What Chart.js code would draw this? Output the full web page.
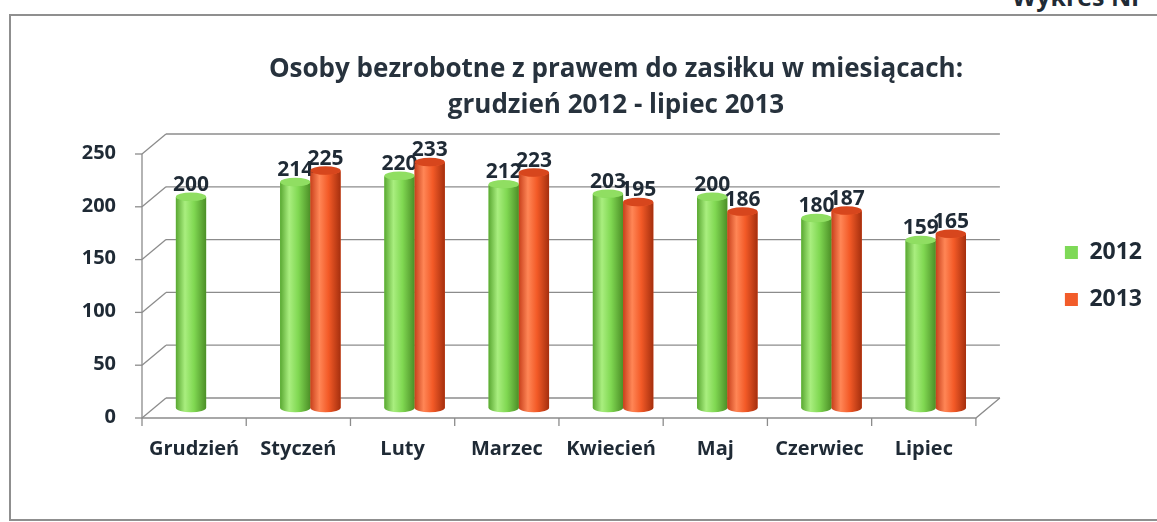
<!DOCTYPE html>
<html><head><meta charset="utf-8">
<script src="https://cdn.jsdelivr.net/npm/chart.js@4.4.1/dist/chart.umd.min.js"></script>
<style>
html,body{margin:0;padding:0;background:#fff;overflow:hidden;width:1157px;height:522px;}
#frame{position:absolute;left:9px;top:14px;width:1170px;height:507px;border:2px solid #8f8f8f;border-right:none;box-sizing:border-box;}
#note{position:absolute;top:-21px;left:1012px;font:bold 25px "Open Sans", sans-serif;color:#1f2b36;white-space:nowrap;}
#wrap{position:absolute;left:0;top:0;width:1157px;height:522px;}
</style></head><body>
<div id="frame"></div>
<div id="note">Wykres Nr</div>
<div id="wrap"><canvas id="c" width="1157" height="522"></canvas></div>
<script>
const categories = ['Grudzień','Styczeń','Luty','Marzec','Kwiecień','Maj','Czerwiec','Lipiec'];
const values2012 = [200,214,220,212,203,200,180,159];
const values2013 = [null,225,233,223,195,186,187,165];
const seriesNames = ['2012','2013'];
const yTickValues = [0,50,100,150,200,250];
const titleLines = ['Osoby bezrobotne z prawem do zasiłku w miesiącach:','grudzień 2012 - lipiec 2013'];

const DX = 12, DY = 10;
const FONT = '"Open Sans", Lato, sans-serif';
const TEXT = '#1f2a35';
const palettes = [
  {base:'#7ed957', edge:'#5aa832', light:'#a9ee7f', mid:'#80d852', dark:'#4c8f27', cap:'#90de62'},
  {base:'#f25c2a', edge:'#c8401c', light:'#ff8656', mid:'#f35a27', dark:'#a52f0e', cap:'#d7461d'}
];

const frame3d = {
  id:'frame3d',
  beforeDatasetsDraw(chart){
    const {ctx, chartArea:a, scales:{x, y}} = chart;
    ctx.save();
    ctx.strokeStyle = '#8c8c8c';
    ctx.lineWidth = 1.3;
    yTickValues.forEach(v => {
      const py = y.getPixelForValue(v);
      ctx.beginPath();
      ctx.moveTo(a.left + DX, py - DY); ctx.lineTo(a.right + DX, py - DY);
      ctx.stroke();
      ctx.beginPath();
      ctx.moveTo(a.left - DX, py + DY); ctx.lineTo(a.left + DX, py - DY);
      ctx.stroke();
      ctx.beginPath();
      ctx.moveTo(a.left - DX - 7, py + DY); ctx.lineTo(a.left - DX, py + DY);
      ctx.stroke();
    });
    const y0 = y.getPixelForValue(0), yT = y.getPixelForValue(250);
    ctx.beginPath();
    ctx.moveTo(a.left - DX, yT + DY); ctx.lineTo(a.left - DX, y0 + DY);
    ctx.lineTo(a.right - DX, y0 + DY); ctx.lineTo(a.right + DX, y0 - DY);
    ctx.stroke();
    for (let i = 0; i <= categories.length; i++) {
      const px = x.getPixelForValue(i - 0.5) - DX;
      ctx.beginPath();
      ctx.moveTo(px, y0 + DY); ctx.lineTo(px, y0 + DY + 8);
      ctx.stroke();
    }
    ctx.restore();
  }
};

const cylinders = {
  id:'cylinders',
  afterDatasetsDraw(chart){
    const ctx = chart.ctx;
    chart.data.datasets.forEach((ds, di) => {
      const meta = chart.getDatasetMeta(di);
      const p = palettes[di];
      meta.data.forEach((el, i) => {
        const v = ds.data[i];
        if (v === null || v === undefined) return;
        const {x, y, base, width} = el.getProps(['x','y','base','width'], true);
        const l = x - width/2, r = x + width/2, rx = width/2, ry = width*0.14;
        ctx.save();
        const g = ctx.createLinearGradient(l, 0, r, 0);
        g.addColorStop(0, p.edge); g.addColorStop(0.3, p.light);
        g.addColorStop(0.6, p.mid); g.addColorStop(1, p.dark);
        ctx.fillStyle = g;
        ctx.beginPath();
        ctx.moveTo(l, y);
        ctx.lineTo(l, base);
        ctx.ellipse(x, base, rx, ry, 0, Math.PI, 0, true);
        ctx.lineTo(r, y);
        ctx.ellipse(x, y, rx, ry, 0, 0, Math.PI, false);
        ctx.closePath();
        ctx.fill();
        ctx.fillStyle = p.cap;
        ctx.beginPath();
        ctx.ellipse(x, y, rx, ry, 0, 0, Math.PI*2);
        ctx.fill();
        ctx.fillStyle = TEXT;
        ctx.font = 'bold 21px ' + FONT;
        ctx.textAlign = 'center';
        ctx.textBaseline = 'bottom';
        ctx.fillText(String(v), x, y - ry + 3);
        ctx.restore();
      });
    });
  }
};

new Chart(document.getElementById('c'), {
  type:'bar',
  data:{
    labels: categories,
    datasets:[
      {label: seriesNames[0], data: values2012, backgroundColor: palettes[0].base, borderWidth:0, yAxisID:'y'},
      {label: seriesNames[1], data: values2013, backgroundColor: palettes[1].base, borderWidth:0, yAxisID:'y'}
    ]
  },
  options:{
    responsive:false,
    animation:false,
    devicePixelRatio:1,
    layout:{padding:{left:80, right:5, top:0, bottom:32}},
    datasets:{bar:{categoryPercentage:0.58, barPercentage:1.0}},
    plugins:{
      title:{display:true, text:titleLines, color:'#27323d',
        font:{family:FONT, size:26, weight:'bold', lineHeight:1.35},
        padding:{top:52.5, bottom:21.3}},
      legend:{display:true, position:'right', align:'center', fullSize:false,
        labels:{boxWidth:13, boxHeight:13, padding:24, color:TEXT,
          font:{family:FONT, size:23, weight:'bold'}}},
      tooltip:{enabled:false}
    },
    scales:{
      x:{grid:{display:false, drawTicks:false}, border:{display:false},
        ticks:{padding:29, labelOffset:-DX, maxRotation:0, color:TEXT, font:{family:FONT, size:20, weight:'bold'}}},
      y:{min:0, max:250, grid:{display:false, drawTicks:false}, border:{display:false},
        afterFit(s){ s.width = 74; },
        afterBuildTicks(s){ s.ticks = yTickValues.map(v => ({value:v})); },
        ticks:{padding:38, labelOffset:DY - 1, color:TEXT, font:{family:FONT, size:20, weight:'bold'}}},
      y2:{position:'right', display:true, grid:{display:false, drawTicks:false}, border:{display:false},
        ticks:{display:false}, afterFit(s){ s.width = 53; }}
    }
  },
  plugins:[frame3d, cylinders]
});
</script>
</body></html>
